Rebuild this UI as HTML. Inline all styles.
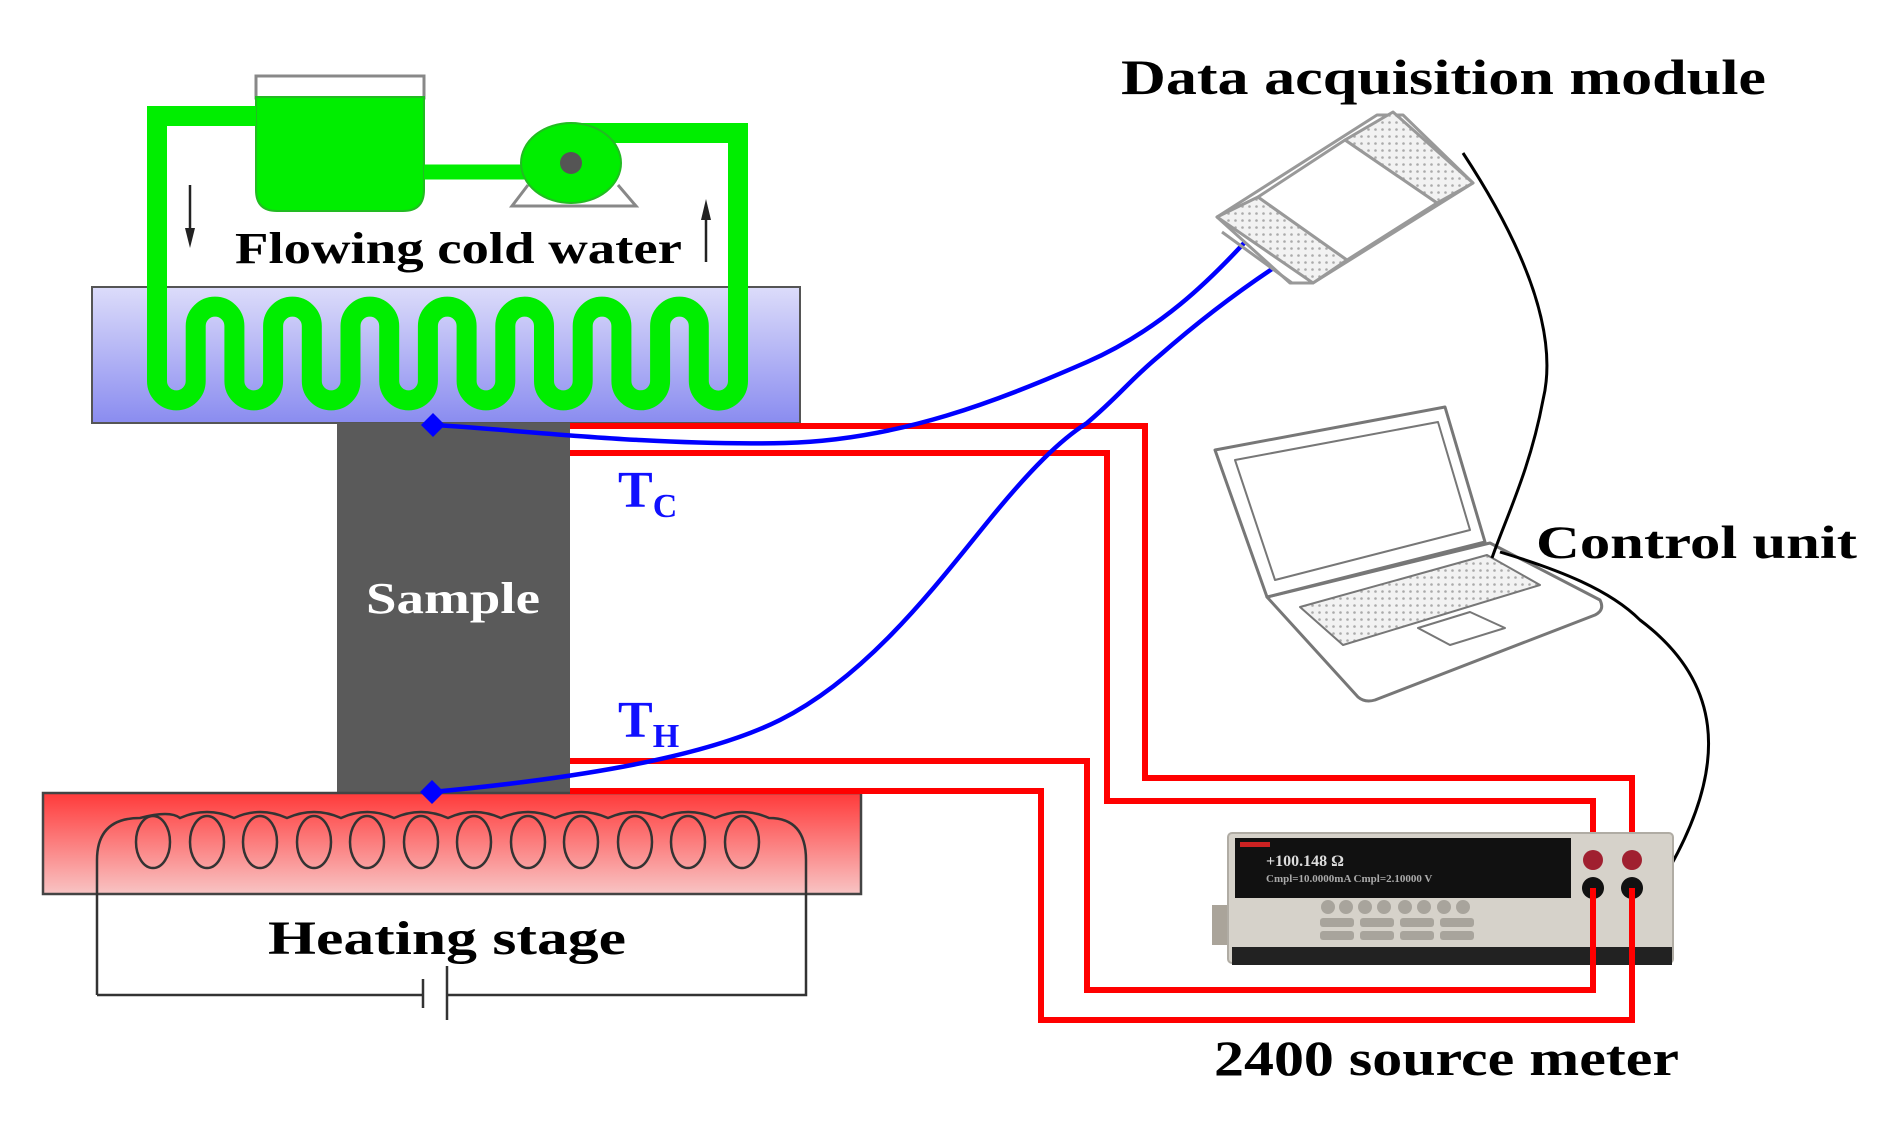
<!DOCTYPE html>
<html><head><meta charset="utf-8"><style>
html,body{margin:0;padding:0;background:#fff}
svg{display:block}
text{font-family:"Liberation Serif",serif;font-weight:bold}
</style></head><body>
<svg width="1884" height="1124" viewBox="0 0 1884 1124" xmlns="http://www.w3.org/2000/svg">
<defs>
<linearGradient id="cold" x1="0" y1="0" x2="0" y2="1"><stop offset="0" stop-color="#dcdcfa"/><stop offset="1" stop-color="#8a8cf0"/></linearGradient>
<linearGradient id="hot" x1="0" y1="0" x2="0" y2="1"><stop offset="0" stop-color="#ff3a3a"/><stop offset="1" stop-color="#f8c4c4"/></linearGradient>
<pattern id="dots" width="7" height="7" patternUnits="userSpaceOnUse"><rect width="7" height="7" fill="#f2f2f2"/><circle cx="3.5" cy="3.5" r="1.3" fill="#aaa"/></pattern>
</defs>

<rect x="92" y="287" width="708" height="136" fill="url(#cold)" stroke="#555" stroke-width="2"/>
<rect x="256" y="76" width="168" height="22" fill="#fff" stroke="#888" stroke-width="3"/>
<path d="M256 97 H424 V190 Q424 211 403 211 H277 Q256 211 256 190 Z" fill="#00ee00" stroke="#22bb22" stroke-width="2"/>
<g fill="none" stroke="#00ee00" stroke-width="20" stroke-linejoin="miter">
<path d="M256 116 H157 V381 A19.35 19.35 0 0 0 195.7 381 V326 A19.35 19.35 0 0 1 234.4 326 V381 A19.35 19.35 0 0 0 273.1 381 V326 A19.35 19.35 0 0 1 311.8 326 V381 A19.35 19.35 0 0 0 350.5 381 V326 A19.35 19.35 0 0 1 389.2 326 V381 A19.35 19.35 0 0 0 427.9 381 V326 A19.35 19.35 0 0 1 466.6 326 V381 A19.35 19.35 0 0 0 505.3 381 V326 A19.35 19.35 0 0 1 544 326 V381 A19.35 19.35 0 0 0 582.7 381 V326 A19.35 19.35 0 0 1 621.4 326 V381 A19.35 19.35 0 0 0 660.1 381 V326 A19.35 19.35 0 0 1 698.8 326 V381 A19.35 19.35 0 0 0 738 381 V133 H570"/>
<path d="M424 172 H530" stroke-width="15"/>
</g>
<path d="M528 185 L512 206 H636 L618 185" fill="none" stroke="#888" stroke-width="3"/>
<ellipse cx="571" cy="163" rx="50" ry="40" fill="#00ee00" stroke="#22bb22" stroke-width="2"/>
<circle cx="571" cy="163" r="11" fill="#555"/>
<line x1="190" y1="185" x2="190" y2="240" stroke="#222" stroke-width="2.5"/>
<path d="M185 228 L190 248 L195 228 Z" fill="#222"/>
<line x1="706" y1="262" x2="706" y2="208" stroke="#222" stroke-width="2.5"/>
<path d="M701 220 L706 199 L711 220 Z" fill="#222"/>
<text x="235" y="263" font-size="44" textLength="447" lengthAdjust="spacingAndGlyphs">Flowing cold water</text>

<rect x="337" y="423" width="233" height="370" fill="#5a5a5a"/>
<text x="366" y="613" font-size="44" fill="#fff" textLength="174" lengthAdjust="spacingAndGlyphs">Sample</text>

<rect x="43" y="793" width="818" height="101" fill="url(#hot)" stroke="#444" stroke-width="2.5"/>
<g fill="none" stroke="#333" stroke-width="2.5">
<path d="M97 995 V860 Q97 818 140 818 Q170 810 180 818 Q207 806 234 818 Q260 806 287 818 Q314 806 341 818 Q367 806 394 818 Q421 806 448 818 Q474 806 501 818 Q528 806 555 818 Q581 806 608 818 Q635 806 662 818 Q688 806 715 818 Q742 806 769 818 Q806 818 806 860 V995 H447 M423 995 H97"/>
<ellipse cx="153" cy="842" rx="17" ry="26"/><ellipse cx="207" cy="842" rx="17" ry="26"/><ellipse cx="260" cy="842" rx="17" ry="26"/><ellipse cx="314" cy="842" rx="17" ry="26"/><ellipse cx="367" cy="842" rx="17" ry="26"/><ellipse cx="421" cy="842" rx="17" ry="26"/><ellipse cx="474" cy="842" rx="17" ry="26"/><ellipse cx="528" cy="842" rx="17" ry="26"/><ellipse cx="581" cy="842" rx="17" ry="26"/><ellipse cx="635" cy="842" rx="17" ry="26"/><ellipse cx="688" cy="842" rx="17" ry="26"/><ellipse cx="742" cy="842" rx="17" ry="26"/>
<line x1="423" y1="979" x2="423" y2="1008"/>
<line x1="447" y1="966" x2="447" y2="1020"/>
</g>
<text x="268" y="954" font-size="48" textLength="358" lengthAdjust="spacingAndGlyphs">Heating stage</text>

<g fill="none" stroke="#ff0000" stroke-width="6">
<path d="M570 426 H1145 V778 H1632 V860"/>
<path d="M570 453 H1107 V801 H1593 V860"/>
<path d="M570 761 H1087 V990 H1593 V888"/>
<path d="M570 791 H1041 V1020 H1632 V888"/>
</g>

<g fill="none" stroke="#0000ff" stroke-width="4.5">
<path d="M435 425 C520 430 650 446 785 443 C900 440 1000 400 1087 362 C1160 330 1210 280 1245 242"/>
<path d="M432 792 C560 780 700 760 780 720 C870 675 940 580 990 519 C1030 470 1060 440 1087 423 C1120 395 1130 380 1159 356 C1200 320 1240 290 1278 265"/>
</g>
<path d="M433 413 L445 425 L433 437 L421 425 Z" fill="#0000ff"/>
<path d="M432 780 L444 792 L432 804 L420 792 Z" fill="#0000ff"/>
<text x="618" y="507" font-size="52" fill="#1010ff">T<tspan font-size="34" dy="10">C</tspan></text>
<text x="618" y="737" font-size="52" fill="#1010ff">T<tspan font-size="34" dy="10">H</tspan></text>

<g stroke="#999" stroke-width="3" stroke-linejoin="round">
<path d="M1217 217 L1377 115 L1403 115 L1473 183 L1313 283 L1290 283 Z" fill="#fff"/>
<path d="M1222 232 L1292 283" fill="none"/>
<path d="M1217 217 L1258 197 L1347 260 L1313 283 Z" fill="url(#dots)"/>
<path d="M1345 140 L1393 112 L1473 183 L1437 203 Z" fill="url(#dots)"/>
<path d="M1258 197 L1345 140 L1437 203 L1347 260 Z" fill="#fff"/>
</g>

<g fill="#fff" stroke="#777" stroke-width="3" stroke-linejoin="round">
<path d="M1267 597 L1490 543 L1600 600 Q1605 610 1595 615 L1375 700 Q1365 703 1358 697 Z"/>
<path d="M1215 450 L1445 407 L1485 542 L1267 597 Z"/>
<path d="M1235 460 L1438 422 L1470 530 L1275 580 Z" stroke-width="2"/>
<path d="M1300 607 L1487 555 L1540 585 L1343 645 Z" fill="url(#dots)" stroke-width="2"/>
<path d="M1418 628 L1470 612 L1505 628 L1450 645 Z" stroke-width="2"/>
</g>
<text x="1536" y="558" font-size="47" textLength="321" lengthAdjust="spacingAndGlyphs">Control unit</text>

<g fill="none" stroke="#000" stroke-width="3">
<path d="M1463 153 C1520 240 1560 330 1543 400 C1530 470 1505 520 1492 558"/>
<path d="M1500 552 C1560 570 1610 590 1640 620 C1720 680 1730 760 1670 867"/>
</g>

<rect x="1212" y="905" width="30" height="40" fill="#aaa49a"/>
<rect x="1650" y="905" width="20" height="40" fill="#aaa49a"/>
<rect x="1228" y="833" width="445" height="130" rx="4" fill="#d6d2ca" stroke="#b0aca4" stroke-width="2"/>
<rect x="1235" y="838" width="336" height="60" fill="#111"/>
<rect x="1240" y="842" width="30" height="5" fill="#c22"/>
<text x="1266" y="866" font-size="16" fill="#ddd" font-family="Liberation Mono" font-weight="normal">+100.148 Ω</text>
<text x="1266" y="882" font-size="11" fill="#aaa" font-family="Liberation Mono" font-weight="normal">Cmpl=10.0000mA  Cmpl=2.10000 V</text>
<g fill="#a8a49c">
<circle cx="1328" cy="907" r="7"/><circle cx="1346" cy="907" r="7"/><circle cx="1365" cy="907" r="7"/><circle cx="1384" cy="907" r="7"/><circle cx="1405" cy="907" r="7"/><circle cx="1424" cy="907" r="7"/><circle cx="1444" cy="907" r="7"/><circle cx="1463" cy="907" r="7"/>
<rect x="1320" y="918" width="34" height="9" rx="3"/><rect x="1360" y="918" width="34" height="9" rx="3"/><rect x="1400" y="918" width="34" height="9" rx="3"/><rect x="1440" y="918" width="34" height="9" rx="3"/>
<rect x="1320" y="931" width="34" height="9" rx="3"/><rect x="1360" y="931" width="34" height="9" rx="3"/><rect x="1400" y="931" width="34" height="9" rx="3"/><rect x="1440" y="931" width="34" height="9" rx="3"/>
</g>
<rect x="1232" y="947" width="440" height="18" fill="#222"/>
<circle cx="1593" cy="860" r="10" fill="#a02030"/><circle cx="1632" cy="860" r="10" fill="#a02030"/>
<circle cx="1593" cy="888" r="11" fill="#111"/><circle cx="1632" cy="888" r="11" fill="#111"/>
<g fill="none" stroke="#ff0000" stroke-width="6"><path d="M1593 888 V990 M1632 888 V1020"/></g>

<text x="1121" y="94" font-size="50" textLength="645" lengthAdjust="spacingAndGlyphs">Data acquisition module</text>
<text x="1214" y="1075" font-size="50" textLength="465" lengthAdjust="spacingAndGlyphs">2400 source meter</text>
</svg>
</body></html>
